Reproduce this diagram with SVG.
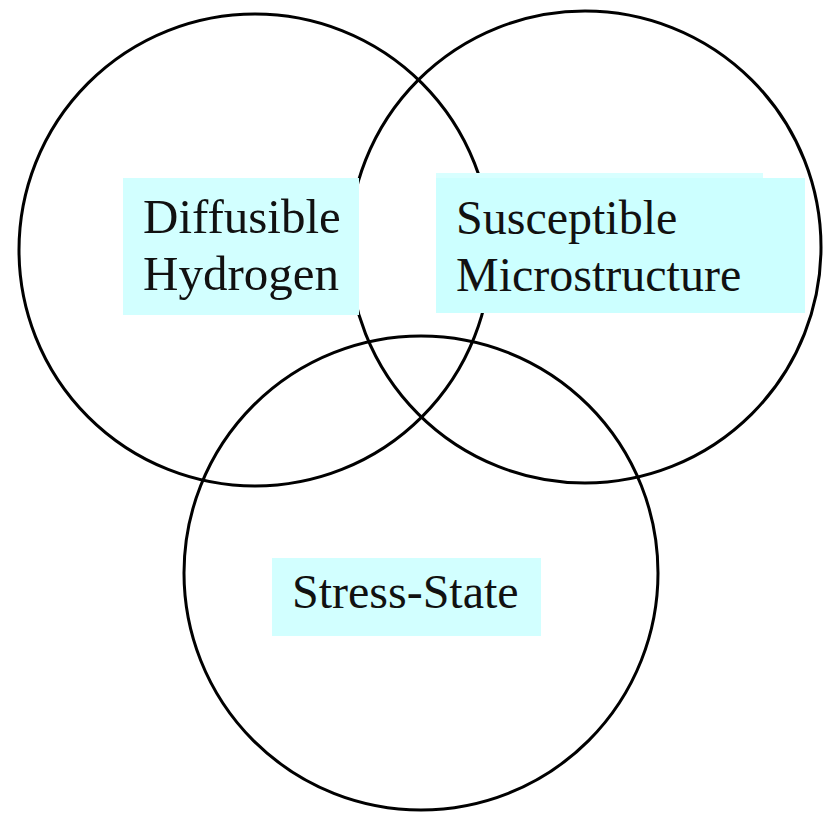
<svg xmlns="http://www.w3.org/2000/svg" width="828" height="813" viewBox="0 0 828 813">
<style>
.c{fill:none;stroke:#000;stroke-width:3}
.b{fill:#d2ffff}
.t{font-family:"Liberation Serif","Times New Roman",serif;fill:#111}
</style>
<rect width="828" height="813" fill="#fff"/>
<g id="circles">
<circle id="c-hydrogen" class="c" cx="255" cy="250" r="236"/>
<circle id="c-micro" class="c" cx="585" cy="247" r="236"/>
<circle id="c-stress" class="c" cx="421" cy="573" r="237"/>
</g>
<g id="node-hydrogen">
<rect class="b" x="123" y="178" width="236" height="137"/>
<text class="t" x="143" y="233" font-size="49">Diffusible</text>
<text class="t" x="143" y="290" font-size="49">Hydrogen</text>
</g>
<g id="node-micro">
<rect x="436" y="173" width="327" height="6" fill="#d8ffff"/>
<rect x="436" y="178" width="369" height="135" fill="#ccffff"/>
<text class="t" x="456" y="234" font-size="48" fill="#000">Susceptible</text>
<text class="t" x="456" y="291" font-size="48" fill="#000">Microstructure</text>
</g>
<g id="node-stress">
<rect class="b" x="272" y="558" width="269" height="78"/>
<text class="t" x="292" y="608" font-size="48">Stress-State</text>
</g>
<g id="connectors"/>
</svg>
